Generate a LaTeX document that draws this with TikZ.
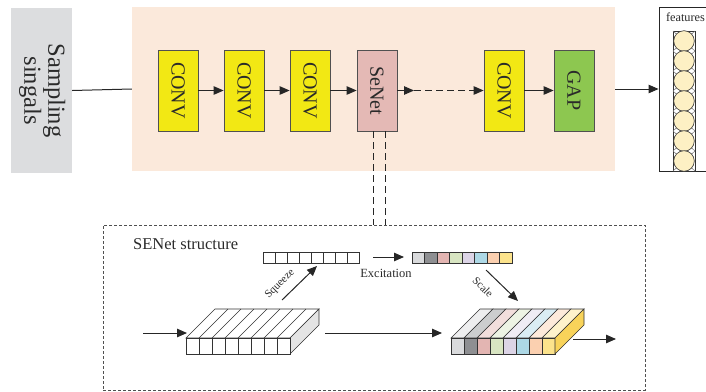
\documentclass[tikz,border=0pt]{standalone}
\usepackage{fontspec}
\setmainfont{Liberation Serif}
\usepackage{graphicx}
\usetikzlibrary{arrows.meta}

\definecolor{sampfill}{HTML}{DCDDDF}
\definecolor{peach}{HTML}{FBE9DB}
\definecolor{convy}{HTML}{F2E814}
\definecolor{senetp}{HTML}{E4B9B5}
\definecolor{gapg}{HTML}{8DC750}
\definecolor{boxline}{HTML}{505050}
\definecolor{txt}{HTML}{2A2A2A}
\definecolor{bead}{HTML}{FDF0C4}
\definecolor{sidegray}{HTML}{E4E4E4}
\definecolor{ca}{HTML}{D9DADC}
\definecolor{cb}{HTML}{8E8F92}
\definecolor{cc}{HTML}{E3B5B2}
\definecolor{cd}{HTML}{D8E5C2}
\definecolor{ce}{HTML}{DCD4E6}
\definecolor{cf}{HTML}{ADD8E6}
\definecolor{cg}{HTML}{FBD0B0}
\definecolor{ch}{HTML}{FCE38C}
\definecolor{sideyel}{HTML}{F8D35A}

\begin{document}
\begin{tikzpicture}[x=1pt,y=-1pt,
  layer/.style={draw=boxline, line width=0.8pt, minimum width=40pt,
    minimum height=81pt, inner sep=0pt, text=txt,
    font=\fontsize{20}{20}\selectfont},
  flow/.style={-{Triangle[length=10pt,width=8.5pt]}, line width=1pt, draw=black!85},
  link/.style={line width=0.8pt, dash pattern=on 7pt off 4pt, draw=black!85},
  cell/.style={draw=black!80, line width=0.6pt},
  small/.style={text=txt, inner sep=0pt}]

\useasboundingbox (0,0) rectangle (706,391);

% input signal and the backbone network
\node[fill=sampfill, minimum width=61pt, minimum height=165pt, inner sep=0pt,
      text=txt, align=center, font=\fontsize{24.5}{26}\selectfont]
      (samp) at (41.5,90.5) {\rotatebox{-90}{\begin{tabular}{c}Sampling\\[-2pt] singals\end{tabular}}};
\node[fill=peach, minimum width=483pt, minimum height=164pt, inner sep=0pt]
      (net) at (373.5,89) {};

\node[layer, fill=convy]  (c1) at (178,90.5) {\rotatebox{-90}{CONV}};
\node[layer, fill=convy]  (c2) at (244,90.5) {\rotatebox{-90}{CONV}};
\node[layer, fill=convy]  (c3) at (310,90.5) {\rotatebox{-90}{CONV}};
\node[layer, fill=senetp] (se) at (377,90.5) {\rotatebox{-90}{SeNet}};
\node[layer, fill=convy]  (c4) at (504,90.5) {\rotatebox{-90}{CONV}};
\node[layer, fill=gapg]   (gap) at (574,90.5) {\rotatebox{-90}{GAP}};

\draw[line width=1pt, black!85] (samp.east) -- (net.west);
\draw[flow] (c1) -- (c2);
\draw[flow] (c2) -- (c3);
\draw[flow] (c3) -- (se);
\coordinate (gapstart) at (414,90.5);
\draw[flow] (se) -- (gapstart);
\draw[flow, dash pattern=on 7pt off 4pt] (gapstart) -- (c4);
\draw[flow] (c4) -- (gap);

% feature vector
\node[draw=black!85, line width=0.9pt, minimum width=62pt, minimum height=164pt,
      inner sep=0pt] (feat) at (690,89) {};
\draw[flow] (net.east) -- (feat.west);
\node[small, font=\fontsize{12.3}{12}\selectfont] (ftitle) at (685.5,17) {features};
\draw[draw=black!80, line width=0.7pt] (673,31) rectangle (695,171);
\foreach \k in {0,...,6} {
  \draw[black!55, line width=0.5pt] (673,31+20*\k) -- ++(22,20);
  \draw[black!55, line width=0.5pt] (695,31+20*\k) -- ++(-22,20);
}
\foreach \k in {0,...,6}
  \draw[fill=bead, draw=black!80, line width=0.6pt] (684,41+20*\k) circle (10.3);

% SENet detail
\node[draw=boxline, line width=0.7pt, dash pattern=on 3pt off 2pt,
      minimum width=542pt, minimum height=165pt, inner sep=0pt] (sebox) at (374,307.5) {};
\draw[link] ([xshift=-4pt]se.south) -- ([xshift=-4pt]se.south |- sebox.north);
\draw[link] ([xshift=8pt]se.south) -- ([xshift=8pt]se.south |- sebox.north);
\node[small, anchor=west, font=\fontsize{16.5}{16}\selectfont] (setitle) at (133,244) {SENet structure};

% squeezed vector
\foreach \i in {0,...,7}
  \draw[cell, fill=white] (263+12*\i,252) rectangle ++(12,11);
% excited vector
\foreach \c [count=\i from 0] in {ca,cb,cc,cd,ce,cf,cg,ch}
  \draw[cell, fill=\c] (412+12.5*\i,252) rectangle ++(12.5,11);

% input feature block
\draw[cell, fill=white] (186,338) -- (290,338) -- (319,309) -- (215,309) -- cycle;
\foreach \i in {1,...,7}
  \draw[cell] (186+13*\i,338) -- ++(29,-29);
\draw[cell, fill=sidegray] (290,338) -- (319,309) -- (319,325) -- (290,354) -- cycle;
\foreach \i in {0,...,7}
  \draw[cell, fill=white] (186+13*\i,338) rectangle ++(13,16);

% rescaled feature block
\foreach \c [count=\i from 0] in {ca,cb,cc,cd,ce,cf,cg,ch} {
  \draw[cell, fill=\c!45!white] (451+13*\i,338) -- ++(13,0) -- ++(29,-29) -- ++(-13,0) -- cycle;
  \draw[cell, fill=\c] (451+13*\i,338) rectangle ++(13,16);
}
\draw[cell, fill=sideyel] (555,338) -- (584,309) -- (584,325) -- (555,354) -- cycle;

% operations
\coordinate (inA) at (143,333);   \coordinate (inB) at (187,333);
\coordinate (midA) at (325,333);  \coordinate (midB) at (442,333);
\coordinate (outA) at (573,339);  \coordinate (outB) at (616,339);
\coordinate (sqA) at (282,300);   \coordinate (sqB) at (317,266);
\coordinate (exA) at (373,257);   \coordinate (exB) at (404,257);
\coordinate (scA) at (486,270);   \coordinate (scB) at (518,301);
\draw[flow] (inA) -- (inB);
\draw[flow] (midA) -- (midB);
\draw[flow] (outA) -- (outB);
\draw[flow] (sqA) -- (sqB);
\draw[flow] (exA) -- (exB);
\draw[flow] (scA) -- (scB);
\node[small, rotate=45, font=\fontsize{11}{11}\selectfont] (sqlab) at (280,284) {Squeeze};
\node[small, font=\fontsize{12.5}{12}\selectfont] (exlab) at (386,273) {Excitation};
\node[small, rotate=-45, font=\fontsize{11}{11}\selectfont] (sclab) at (483,287) {Scale};
\end{tikzpicture}
\end{document}
